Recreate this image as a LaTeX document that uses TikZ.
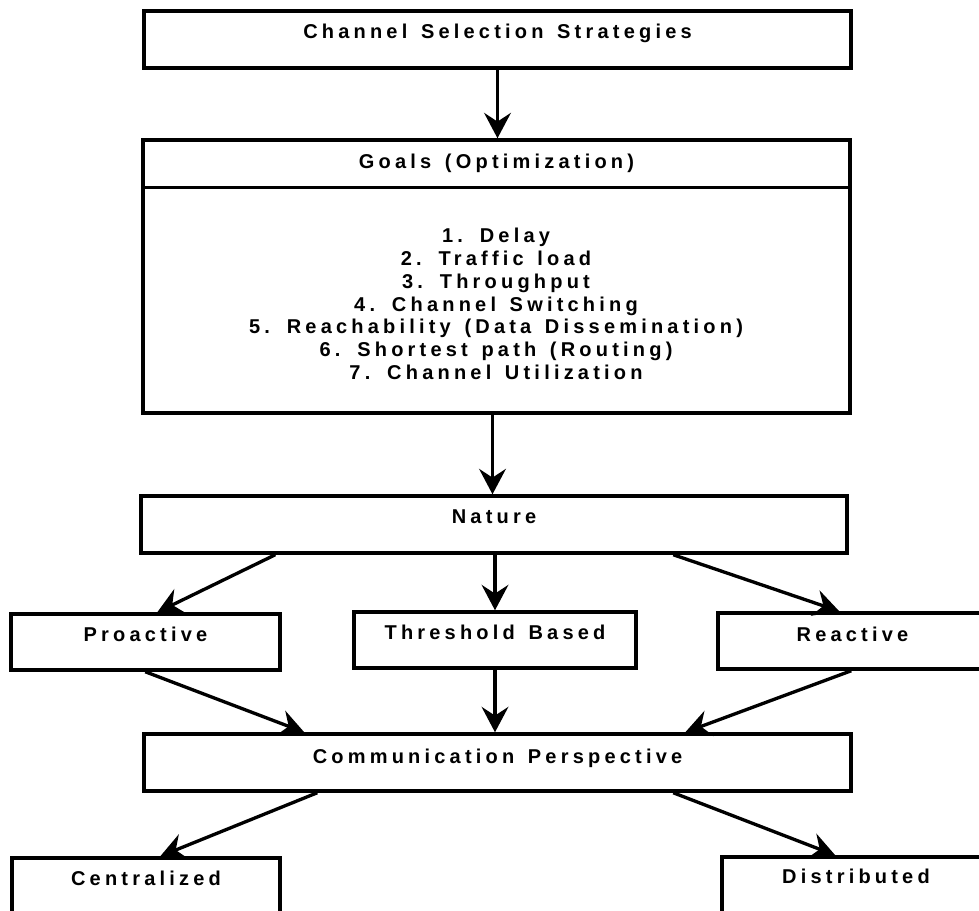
\documentclass[tikz,border=0pt]{standalone}
\usepackage{fontspec}
\setmainfont{Liberation Sans}[LetterSpace=21, WordSpace=1.4]
\usetikzlibrary{arrows.meta,calc}
\begin{document}
\begin{tikzpicture}[x=0.75pt,y=-0.75pt,
  box/.style={draw, line width=2.6pt, rectangle, inner sep=0pt},
  lbl/.style={inner sep=0pt, anchor=base, font=\bfseries\fontsize{15pt}{17.1pt}\selectfont},
  arr/.style={line width=2.5pt, -{Stealth[length=19pt,width=20pt,inset=6.5pt]}}]
\useasboundingbox (0,0) rectangle (979,911);

% boxes
\node[box, minimum width=530.25pt, minimum height=42.75pt] (b1) at (497.5,39.5) {};
\node[box, minimum width=530.25pt, minimum height=204.75pt] (goals) at (496.5,276.5) {};
\node[box, minimum width=529.5pt, minimum height=42.75pt] (nature) at (494,524.5) {};
\node[box, minimum width=201.75pt, minimum height=42pt] (pro) at (145.5,642) {};
\node[box, minimum width=211.5pt, minimum height=42pt] (thr) at (495,640) {};
\node[box, minimum width=201.75pt, minimum height=42pt] (rea) at (852.5,641) {};
\node[box, minimum width=530.25pt, minimum height=42.75pt] (comm) at (497.5,762.5) {};
\node[box, minimum width=201pt, minimum height=42pt] (cen) at (146,886) {};
\node[box, minimum width=201pt, minimum height=42pt] (dis) at (856,885) {};

% labels
\node[lbl] (t1) at ($(b1.north)+(0,29)$) {Channel Selection Strategies};
\node[lbl] (tg) at ($(goals.north)+(0,30)$) {Goals (Optimization)};
\draw[line width=2.4pt] ($(goals.north west)+(0,49)$) -- ($(goals.north east)+(0,49)$);
\node[inner sep=0pt, align=center, font=\bfseries\fontsize{15pt}{17.1pt}\selectfont] (list) at (496,304)
  {1. Delay\\2. Traffic load\\3. Throughput\\4. Channel Switching\\5. Reachability (Data Dissemination)\\6. Shortest path (Routing)\\7. Channel Utilization};
\node[lbl] (tn) at ($(nature.north)+(0,29)$) {Nature};
\node[lbl] (tp) at ($(pro.north)+(0,29)$) {Proactive};
\node[lbl] (tt) at ($(thr.north)+(0,29)$) {Threshold Based};
\node[lbl] (tr) at ($(rea.north)+(0,30)$) {Reactive};
\node[lbl] (tc) at ($(comm.north)+(0,31)$) {Communication Perspective};
\node[lbl] (tce) at ($(cen.north)+(0,29)$) {Centralized};
\node[lbl] (td) at ($(dis.north)+(0,28)$) {Distributed};

% connectors
\draw[arr] (b1.south) -- (b1.south |- goals.north);
\draw[arr] ($(goals.south)+(-4,0)$) -- ($(goals.south |- nature.north)+(-4,0)$);
\draw[arr] ($(nature.south west)+(136,0)$) -- ($(pro.north west)+(148,0)$);
\draw[arr] (thr.north |- nature.south) -- (thr.north);
\draw[arr] ($(nature.south west)+(534,0)$) -- ($(rea.north west)+(123,0)$);
\draw[arr] ($(pro.south west)+(136,0)$) -- ($(comm.north west)+(162,0)$);
\draw[arr] (thr.south) -- (thr.south |- comm.north);
\draw[arr] ($(rea.south west)+(135,0)$) -- ($(comm.north west)+(543,0)$);
\draw[arr] ($(comm.south west)+(175,0)$) -- ($(cen.north west)+(150,0)$);
\draw[arr] ($(comm.south west)+(531,0)$) -- ($(dis.north west)+(115,0)$);
\end{tikzpicture}
\end{document}
